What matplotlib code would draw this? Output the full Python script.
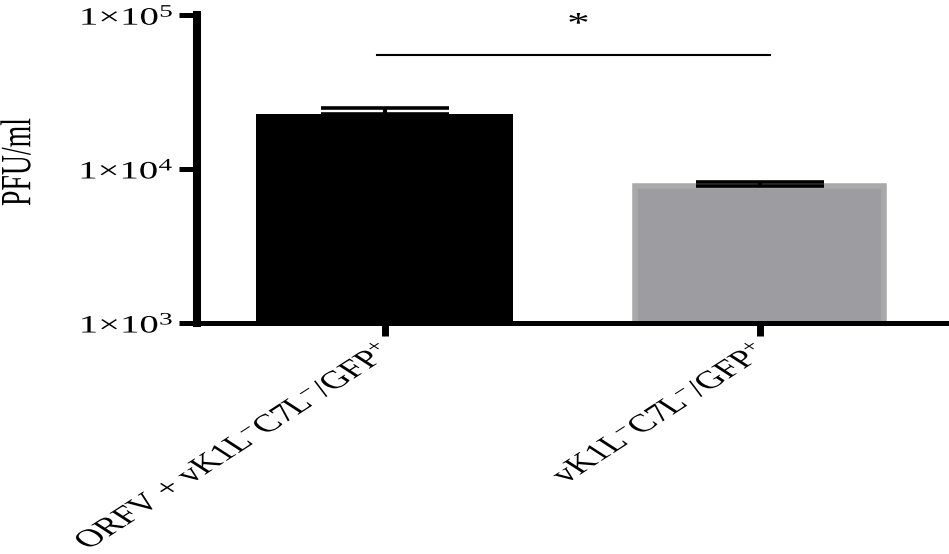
import numpy as np
import matplotlib
matplotlib.use('Agg')
import matplotlib.pyplot as plt
from matplotlib.patheffects import AbstractPathEffect
from matplotlib.transforms import Affine2D

# Data
groups = ['ORFV + vK1L$^{-}$C7L$^{-}$/GFP$^{+}$', 'vK1L$^{-}$C7L$^{-}$/GFP$^{+}$']
pfu = [22800, 7700]
pfu_err = [2100, 540]
bar_colors = ['#000000', '#9d9ca0']
edge_colors = ['#000000', '#a9a9a9']
yticks = [1e3, 1e4, 1e5]
ytick_labels = ['1×10$^{3}$', '1×10$^{4}$', '1×10$^{5}$']
sig_y = 5.5e4
star_y = 8.6e4

plt.rcParams['font.family'] = 'Liberation Serif'
plt.rcParams['mathtext.fontset'] = 'custom'
plt.rcParams['mathtext.rm'] = 'Liberation Serif'
plt.rcParams['mathtext.it'] = 'Liberation Serif:italic'

SX = 1.55  # the reference image is stretched sideways


class StretchX(AbstractPathEffect):
    # widen a text around its own anchor point, optional sideways shift in px
    def __init__(self, text, sx=SX, dx=0):
        super().__init__()
        self.text = text
        self.sx = sx
        self.dx = dx

    def draw_path(self, renderer, gc, tpath, affine, rgbFace=None):
        x0, y0 = self.text.get_transform().transform(self.text.get_position())
        st = Affine2D().translate(-x0, 0).scale(self.sx, 1).translate(x0 + self.dx, 0)
        renderer.draw_path(gc, tpath, affine + st, rgbFace)


def stretch(t, dx=0):
    t.set_path_effects([StretchX(t, dx=dx)])


fig = plt.figure(figsize=(9.49, 5.54), dpi=100)
ax = fig.add_axes([197/949, 231/554, 750/949, 308/554])

x = np.arange(len(groups))
widths = [0.685, 0.665]
ax.bar(x, pfu, width=widths, color=bar_colors, edgecolor=edge_colors,
       linewidth=[0, 4], zorder=2)
ax.errorbar(x, pfu, yerr=[np.zeros(len(pfu)), pfu_err], fmt='none',
            ecolor='black', elinewidth=3, capsize=46, capthick=2.6, zorder=3)

ax.set_yscale('log')
ax.set_ylim(1e3, 1e5)
ax.set_xlim(-0.5, 1.5)
ax.set_yticks(yticks, ytick_labels)
ax.minorticks_off()
ax.set_xticks(x, groups, rotation=45, ha='right', va='top', rotation_mode='anchor')

for s in ['top', 'right']:
    ax.spines[s].set_visible(False)
ax.spines['left'].set_linewidth(5.8)
ax.spines['bottom'].set_linewidth(3.6)
ax.tick_params(axis='y', length=13, width=3.6, pad=3, labelsize=18)
ax.tick_params(axis='x', length=9.5, width=5, pad=2, labelsize=18)

ax.set_ylabel('PFU/ml', fontsize=20)
ax.yaxis.set_label_coords(-0.21, 0.523)

# significance bracket
ax.plot([x[0] - 0.02, x[1] + 0.027], [sig_y, sig_y], color='black', lw=1.5)
star = ax.text((x[0] + x[1]) / 2 + 0.017, star_y, '*', ha='center', va='center', fontsize=21)

for t in ax.get_xticklabels():
    stretch(t, dx=-8)
for t in ax.get_yticklabels() + [ax.yaxis.label, star]:
    stretch(t)

fig.savefig('out.png', dpi=100)
